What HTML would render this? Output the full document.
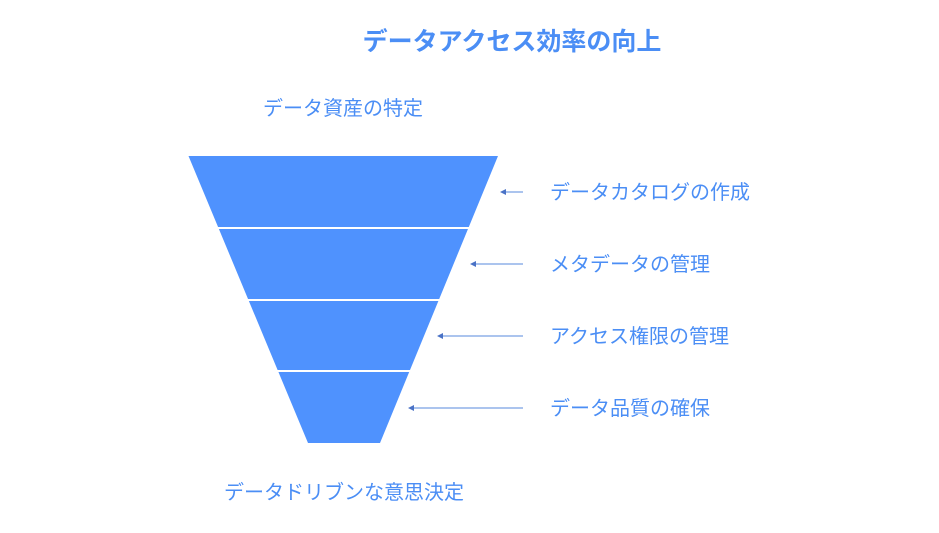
<!DOCTYPE html>
<html><head><meta charset="utf-8"><style>
body{margin:0;background:#fff;}
svg text{font-family:"Liberation Sans","Noto Sans CJK JP",sans-serif;fill:#4b8ef5;}
</style></head><body>
<svg width="939" height="528" viewBox="0 0 939 528" xmlns="http://www.w3.org/2000/svg">
<text x="512" y="50" text-anchor="middle" font-size="25" font-weight="bold">データアクセス効率の向上</text>
<text x="343" y="115" text-anchor="middle" font-size="20">データ資産の特定</text>
<polygon points="188.5,156 498,156 380,443 308,443" fill="#4f92fe"/>
<g stroke="#fff" stroke-width="2">
<line x1="180" y1="228" x2="500" y2="228"/>
<line x1="180" y1="300" x2="500" y2="300"/>
<line x1="180" y1="371" x2="500" y2="371"/>
</g>
<g stroke="#8fb0e8" stroke-width="1.5">
<line x1="504" y1="192" x2="523" y2="192"/>
<line x1="474" y1="264" x2="523" y2="264"/>
<line x1="441" y1="336" x2="523" y2="336"/>
<line x1="412" y1="408" x2="523" y2="408"/>
</g>
<g fill="#4a72c6">
<polygon points="500,192 506,189 506,195"/>
<polygon points="470,264 476,261 476,267"/>
<polygon points="437,336 443,333 443,339"/>
<polygon points="408,408 414,405 414,411"/>
</g>
<g font-size="20">
<text x="550" y="199">データカタログの作成</text>
<text x="550" y="271">メタデータの管理</text>
<text x="550" y="343">アクセス権限の管理</text>
<text x="550" y="415">データ品質の確保</text>
</g>
<text x="344" y="499" text-anchor="middle" font-size="20">データドリブンな意思決定</text>
</svg>
</body></html>
